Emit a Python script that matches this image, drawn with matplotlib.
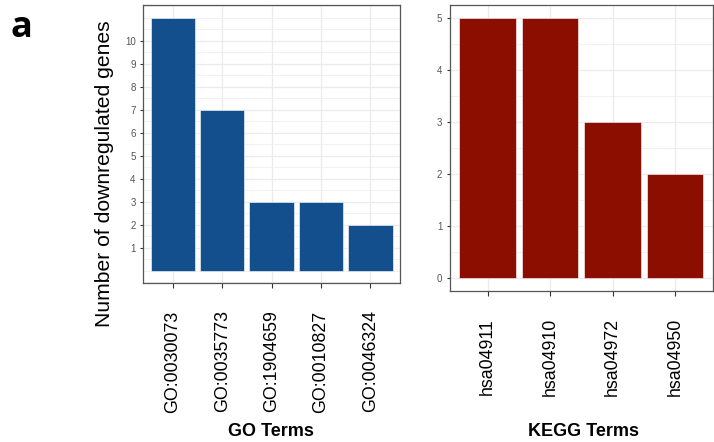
import matplotlib
matplotlib.use("Agg")
from matplotlib import pyplot as plt
from matplotlib.ticker import MultipleLocator
import numpy as np

plt.rcParams['font.family'] = ['Liberation Sans', 'DejaVu Sans']

go_terms = ["GO:0030073", "GO:0035773", "GO:1904659", "GO:0010827", "GO:0046324"]
go_counts = [11, 7, 3, 3, 2]
go_yticks = [1, 2, 3, 4, 5, 6, 7, 8, 9, 10]

kegg_terms = ["hsa04911", "hsa04910", "hsa04972", "hsa04950"]
kegg_counts = [5, 5, 3, 2]
kegg_yticks = [0, 1, 2, 3, 4, 5]

W, H = 714, 442
fig = plt.figure(figsize=(W / 100, H / 100), dpi=100)

def px_axes(x0, y0, x1, y1):
    return fig.add_axes([x0 / W, 1 - y1 / H, (x1 - x0) / W, (y1 - y0) / H])

def style(ax, labels, counts, yticks, color):
    x = np.arange(1, len(labels) + 1)
    ax.bar(x, counts, width=0.9, color=color, edgecolor="#ffffff", linewidth=0.4, zorder=3)
    top = max(counts)
    ax.set_xlim(0.4, len(labels) + 0.6)
    ax.set_ylim(-0.05 * top, top * 1.05)
    ax.set_xticks(x)
    ax.set_xticklabels(labels, rotation=90, va="top", ha="center", fontsize=12.8, color="black")
    ax.set_yticks(yticks)
    ax.set_yticklabels([str(v) for v in yticks], fontsize=7, color="#555555")
    ax.yaxis.set_minor_locator(MultipleLocator(0.5))
    ax.grid(which="major", color="#ebebeb", linewidth=0.9, zorder=0)
    ax.grid(which="minor", axis="y", color="#ebebeb", linewidth=0.5, zorder=0)
    ax.tick_params(axis="x", length=3.5, width=0.8, color="#333333", pad=16)
    ax.tick_params(axis="y", length=2.5, width=0.8, color="#333333", pad=3)
    ax.tick_params(which="minor", length=0)
    for s in ax.spines.values():
        s.set_color("#555555")
        s.set_linewidth(0.9)
    ax.set_axisbelow(True)

ax1 = px_axes(143.3, 5, 400, 283.3)
style(ax1, go_terms, go_counts, go_yticks, "#134f8c")

ax2 = px_axes(450, 5, 712.7, 290.7)
style(ax2, kegg_terms, kegg_counts, kegg_yticks, "#8b0e00")

fig.text(271 / W, 1 - 431 / H, "GO Terms", ha="center", va="center", fontsize=13, fontweight="bold")
fig.text(584 / W, 1 - 431 / H, "KEGG Terms", ha="center", va="center", fontsize=13, fontweight="bold")
fig.text(105 / W, 1 - 174 / H, "Number of downregulated genes", rotation=90,
         ha="center", va="center", fontsize=15.2)
fig.text(10 / W, 1 - 37 / H, "a", ha="left", va="baseline", fontsize=26, fontweight="bold",
         family=["Open Sans", "Liberation Sans"])

fig.savefig("out.png", dpi=100)
